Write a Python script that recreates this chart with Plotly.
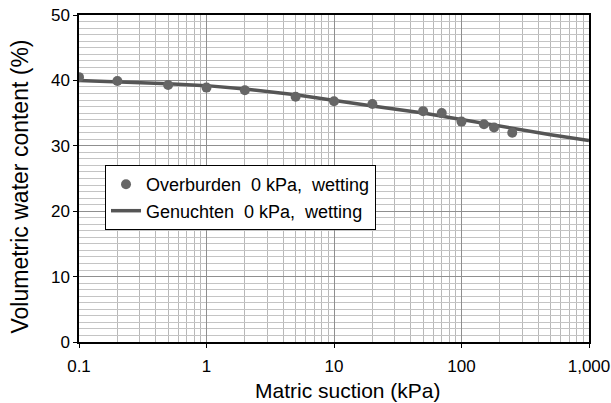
import plotly.graph_objects as go

# measured points (wetting, overburden 0 kPa)
suction_obs = [0.1, 0.2, 0.5, 1, 2, 5, 10, 20, 50, 70, 100, 150, 180, 250]
theta_obs = [40.5, 39.9, 39.3, 38.9, 38.5, 37.5, 36.8, 36.4, 35.3, 35.0, 33.7, 33.3, 32.8, 32.0]

# van Genuchten fit
suction_fit = [0.1, 0.2, 0.5, 1, 2, 5, 10, 20, 50, 100, 200, 500, 1000]
theta_fit = [40.0, 39.8, 39.5, 39.2, 38.7, 37.8, 37.0, 36.1, 35.0, 34.0, 32.9, 31.7, 30.8]

x_ticks = [0.1, 1, 10, 100, 1000]
x_labels = ['0.1', '1', '10', '100', '1,000']

font = 'Liberation Sans, Arial, sans-serif'

fig = go.Figure()
fig.add_trace(go.Scatter(
    x=suction_fit, y=theta_fit, mode='lines',
    name='Genuchten  0 kPa,  wetting',
    line=dict(color='#555555', width=3.5),
    legendrank=2
))
fig.add_trace(go.Scatter(
    x=suction_obs, y=theta_obs, mode='markers',
    name='Overburden  0 kPa,  wetting',
    marker=dict(color='#666666', size=10),
    legendrank=1
))

fig.update_layout(
    width=611, height=403,
    margin=dict(l=79, r=22, t=15, b=61),
    paper_bgcolor='white', plot_bgcolor='white',
    font=dict(family=font, color='black', size=17),
    showlegend=True,
    legend=dict(
        x=0.051, y=0.541, xanchor='left', yanchor='top',
        bgcolor='white', bordercolor='black', borderwidth=1,
        font=dict(size=18), itemwidth=30, tracegroupgap=2
    ),
    xaxis=dict(
        type='log', range=[-1, 3], automargin=False,
        tickvals=x_ticks, ticktext=x_labels, ticklabeloverflow='allow',
        ticks='outside', ticklen=4, tickcolor='black', ticklabelstandoff=4,
        showline=True, linecolor='black', linewidth=1.5, mirror=True,
        showgrid=True, gridcolor='#8f8f8f', gridwidth=1,
        minor=dict(dtick='D1', showgrid=True, gridcolor='#b8b8b8', gridwidth=1, ticks=''),
        zeroline=False
    ),
    yaxis=dict(
        range=[0, 50], dtick=10, automargin=False, ticklabeloverflow='allow',
        ticks='outside', ticklen=4, tickcolor='black',
        showline=True, linecolor='black', linewidth=1.5, mirror=True,
        showgrid=True, gridcolor='#8f8f8f', gridwidth=1,
        minor=dict(dtick=1, showgrid=True, gridcolor='#c4c4c4', gridwidth=1, ticks=''),
        zeroline=False
    ),
    annotations=[
        dict(text='Matric suction (kPa)', xref='paper', yref='paper',
             x=0.527, y=0, yshift=-48, xanchor='center', yanchor='middle',
             showarrow=False, font=dict(size=21)),
        dict(text='Volumetric water content (%)', xref='paper', yref='paper',
             x=0, y=0.5, xshift=-60, yshift=-8, xanchor='center', yanchor='middle',
             textangle=-90, showarrow=False, font=dict(size=23)),
    ]
)

# drop the default 8px body margin so the figure sits at the window corner
fig.write_html('out.html', config={'displayModeBar': False},
               post_script="document.body.style.margin='0';")
